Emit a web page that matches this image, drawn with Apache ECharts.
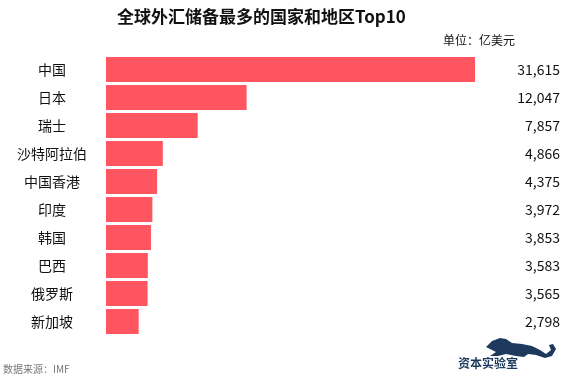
<!DOCTYPE html>
<html><head><meta charset="utf-8">
<script src="https://cdn.jsdelivr.net/npm/echarts@6/dist/echarts.min.js"></script>
<style>html,body{margin:0;padding:0;background:#fff}#c{width:570px;height:382px}</style>
</head><body><div id="c"></div>
<script>
const categories = ['中国','日本','瑞士','沙特阿拉伯','中国香港','印度','韩国','巴西','俄罗斯','新加坡'];
const values = [31615,12047,7857,4866,4375,3972,3853,3583,3565,2798];
const titleText = '全球外汇储备最多的国家和地区Top10';
const unitText = '单位：亿美元';
const sourceText = '数据来源：IMF';
const logoText = '资本实验室';

const fmt = v => v.toLocaleString('en-US');
const font = '"Noto Sans CJK SC", "Microsoft YaHei", sans-serif';
const chart = echarts.init(document.getElementById('c'));
chart.setOption({
  animation: false,
  backgroundColor: '#fff',
  title: { text: titleText, left: 112, top: 3,
    textStyle: { fontFamily: font, fontSize: 17, fontWeight: 'bold', color: '#111' } },
  grid: { left: 106, right: 95, top: 55.5, height: 280 },
  xAxis: { type: 'value', min: 0, max: Math.max(...values), show: false },
  yAxis: [
    { type: 'category', data: categories, inverse: true,
      axisLine: { show: false }, axisTick: { show: false },
      axisLabel: { align: 'center', margin: 54, fontFamily: font, fontSize: 14, color: '#111' } },
    { type: 'category', data: values.map(fmt), inverse: true, position: 'right',
      axisLine: { show: false }, axisTick: { show: false },
      axisLabel: { align: 'right', margin: 85, fontFamily: font, fontSize: 14, color: '#111' } }
  ],
  series: [{ type: 'bar', data: values, barWidth: 25, itemStyle: { color: '#ff5560' } }],
  graphic: [
    { type: 'text', right: 55, top: 34, style: { text: unitText, font: '12px ' + font, fill: '#111' } },
    { type: 'text', left: 3, top: 364, style: { text: sourceText, font: '10px ' + font, fill: '#777' } },
    { type: 'text', left: 458, top: 357, style: { text: logoText, font: 'bold 12px ' + font, fill: '#1d3a5e' } },
    { type: 'polygon', shape: { points: [[486,347],[492,341],[500,338],[506,339],[512,343],[522,344],[532,346],[540,350],[546,354],[551,350],[549,345],[553,344],[556,349],[552,356],[545,358],[536,355],[528,354],[524,357],[516,356],[506,354],[498,356],[490,356],[496,352],[492,350]] },
      style: { fill: '#1d3a5e' } }
  ]
});
</script></body></html>
